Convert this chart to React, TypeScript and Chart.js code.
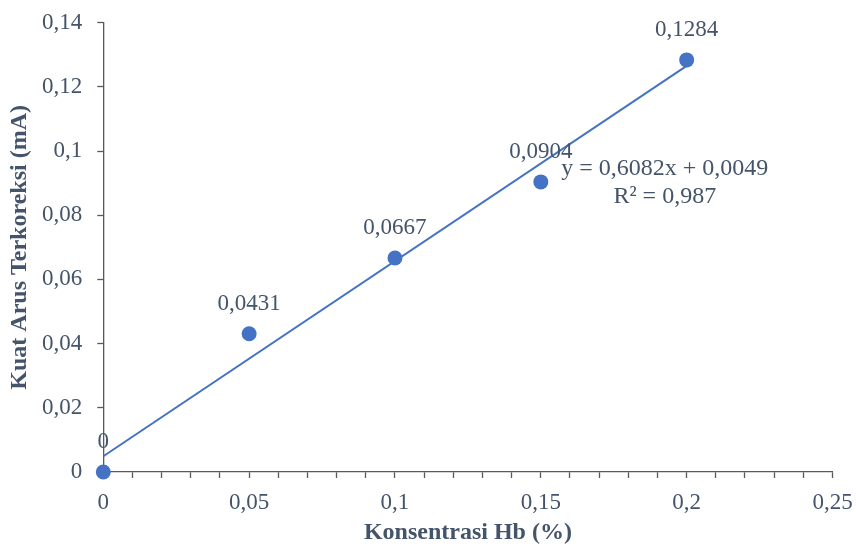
import React, { useEffect, useRef } from "react";
import { Chart, registerables } from "chart.js";

Chart.register(...registerables);

const concentrations = [0, 0.05, 0.1, 0.15, 0.2];
const currents = [0, 0.0431, 0.0667, 0.0904, 0.1284];
const pointLabels = ["0", "0,0431", "0,0667", "0,0904", "0,1284"];
const trendSlope = 0.6082;
const trendIntercept = 0.0049;
const trendRange = [0, 0.2];
const equationText = "y = 0,6082x + 0,0049";
const r2Text = "R² = 0,987";
const xTitle = "Konsentrasi Hb (%)";
const yTitle = "Kuat Arus Terkoreksi (mA)";

const FONT = "'Liberation Serif', 'Times New Roman', serif";
const TEXT = "#44546A";
const AXIS = "#595959";
const BLUE = "#4472C4";

const fmt = (v: number) => String(Number(v.toFixed(4))).replace(".", ",");

const zeroPad = (s: any) => {
  s.paddingTop = 0;
  s.paddingBottom = 0;
  s.paddingLeft = 0;
  s.paddingRight = 0;
};

export default function App() {
  const ref = useRef<HTMLCanvasElement>(null);
  useEffect(() => {
    if (!ref.current) return;
    const labelPlugin = {
      id: "labelsAndEq",
      afterDatasetsDraw(chart: any) {
        const ctx = chart.ctx;
        const meta = chart.getDatasetMeta(1);
        ctx.save();
        ctx.font = `23px ${FONT}`;
        ctx.fillStyle = TEXT;
        ctx.textAlign = "center";
        ctx.textBaseline = "middle";
        meta.data.forEach((el: any, i: number) => {
          ctx.fillText(pointLabels[i], el.x, el.y - 30);
        });
        const xs = chart.scales.x;
        const ys = chart.scales.y;
        const ex = xs.getPixelForValue(0.1925);
        const ey = ys.getPixelForValue(0.0946);
        ctx.font = `24px ${FONT}`;
        ctx.fillText(equationText, ex, ey);
        ctx.fillText(r2Text, ex, ey + 28);
        ctx.restore();
      },
    };
    const chart = new Chart(ref.current, {
      type: "scatter",
      data: {
        datasets: [
          {
            label: "trend",
            data: trendRange.map((x) => ({ x, y: trendSlope * x + trendIntercept })),
            showLine: true,
            borderColor: BLUE,
            borderWidth: 2,
            pointRadius: 0,
            clip: false,
          } as any,
          {
            label: "data",
            data: concentrations.map((x, i) => ({ x, y: currents[i] })),
            backgroundColor: BLUE,
            borderColor: BLUE,
            pointRadius: 7.5,
            borderWidth: 0,
            clip: false,
          } as any,
        ],
      },
      options: {
        animation: false,
        responsive: false,
        layout: { padding: { top: 22.7, right: 23.5, left: 0, bottom: 0 } },
        plugins: { legend: { display: false }, tooltip: { enabled: false } },
        scales: {
          x: {
            type: "linear",
            min: 0,
            max: 0.25,
            afterFit: (s: any) => {
              s.height = 75;
              zeroPad(s);
            },
            ticks: {
              stepSize: 0.01,
              autoSkip: false,
              maxRotation: 0,
              padding: 11,
              color: TEXT,
              font: { family: FONT, size: 23 },
              callback: (v: any) => {
                const n = Math.round(Number(v) * 100);
                return n % 5 === 0 ? fmt(Number(v)) : "";
              },
            },
            grid: {
              drawOnChartArea: false,
              drawTicks: true,
              tickLength: 6,
              tickColor: AXIS,
              tickWidth: 1.3,
            },
            border: { display: true, color: AXIS, width: 1.3 },
            title: {
              display: true,
              text: xTitle,
              color: TEXT,
              font: { family: FONT, size: 24, weight: "bold" },
              padding: { top: 0, bottom: 0 },
            },
          },
          y: {
            type: "linear",
            min: 0,
            max: 0.14,
            afterFit: (s: any) => {
              s.width = 103.3;
              zeroPad(s);
            },
            ticks: {
              stepSize: 0.02,
              padding: 15,
              color: TEXT,
              font: { family: FONT, size: 23 },
              callback: (v: any) => fmt(Number(v)),
            },
            grid: {
              drawOnChartArea: false,
              drawTicks: true,
              tickLength: 6,
              tickColor: AXIS,
              tickWidth: 1.3,
            },
            border: { display: true, color: AXIS, width: 1.3 },
            title: {
              display: true,
              text: yTitle,
              color: TEXT,
              font: { family: FONT, size: 24, weight: "bold" },
              padding: { top: 5.5, bottom: 0 },
            },
          },
        },
      },
      plugins: [labelPlugin],
    } as any);
    return () => chart.destroy();
  }, []);
  return (
    <canvas
      ref={ref}
      width={856}
      height={547}
      style={{ position: "absolute", left: 0, top: 0, width: 856, height: 547 }}
    />
  );
}
